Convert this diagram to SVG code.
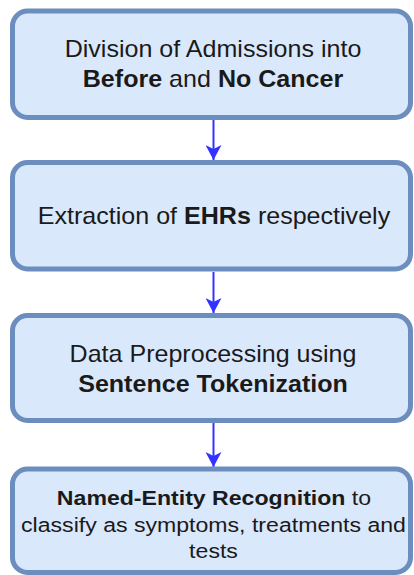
<svg xmlns="http://www.w3.org/2000/svg" width="414" height="575" viewBox="0 0 414 575">
  <style>
    .box { fill: #dae8fc; stroke: #6c8ebf; stroke-width: 5; }
    .lbl { font-family: "Liberation Sans", Arial, sans-serif; font-size: 23px; fill: #1a1a1a; text-anchor: middle; }
    .sm { font-size: 21px; }
    .b { font-weight: bold; }
    .conn { stroke: #3333ff; stroke-width: 2; fill: none; marker-end: url(#arr); }
  </style>
  <defs>
    <marker id="arr" markerUnits="userSpaceOnUse" markerWidth="16" markerHeight="16" refX="15" refY="8" orient="auto" viewBox="0 0 16 16">
      <path d="M0,0 L15,8 L0,16 L4,8 Z" fill="#3333ff"/>
    </marker>
  </defs>
  <rect width="414" height="575" fill="#ffffff"/>
  <g id="connectors">
    <line class="conn" x1="213.5" y1="120" x2="213.5" y2="160"/>
    <line class="conn" x1="213.5" y1="272" x2="213.5" y2="313"/>
    <line class="conn" x1="213.5" y1="423" x2="213.5" y2="467"/>
  </g>
  <g id="node1">
    <rect class="box" x="12.5" y="11" width="398" height="106.5" rx="15" ry="15"/>
    <text class="lbl" transform="translate(213 57.3) scale(1.09 1)">Division of Admissions into</text>
    <text class="lbl" transform="translate(213 86.7) scale(1.09 1)"><tspan class="b">Before</tspan> and <tspan class="b">No Cancer</tspan></text>
  </g>
  <g id="node2">
    <rect class="box" x="12.5" y="162.5" width="398" height="106.5" rx="15" ry="15"/>
    <text class="lbl" transform="translate(214 224.3) scale(1.09 1)">Extraction of <tspan class="b">EHRs</tspan> respectively</text>
  </g>
  <g id="node3">
    <rect class="box" x="12.5" y="315.5" width="398" height="105" rx="15" ry="15"/>
    <text class="lbl" transform="translate(213 361.7) scale(1.09 1)">Data Preprocessing using</text>
    <text class="lbl b" transform="translate(213 391.7) scale(1.09 1)">Sentence Tokenization</text>
  </g>
  <g id="node4">
    <rect class="box" x="12.5" y="469" width="398" height="103.5" rx="15" ry="15"/>
    <text class="lbl sm" transform="translate(214 505) scale(1.1 1)"><tspan class="b">Named-Entity Recognition</tspan> to</text>
    <text class="lbl sm" transform="translate(213.5 531.7) scale(1.1 1)">classify as symptoms, treatments and</text>
    <text class="lbl sm" transform="translate(213.5 558.3) scale(1.1 1)">tests</text>
  </g>
</svg>
